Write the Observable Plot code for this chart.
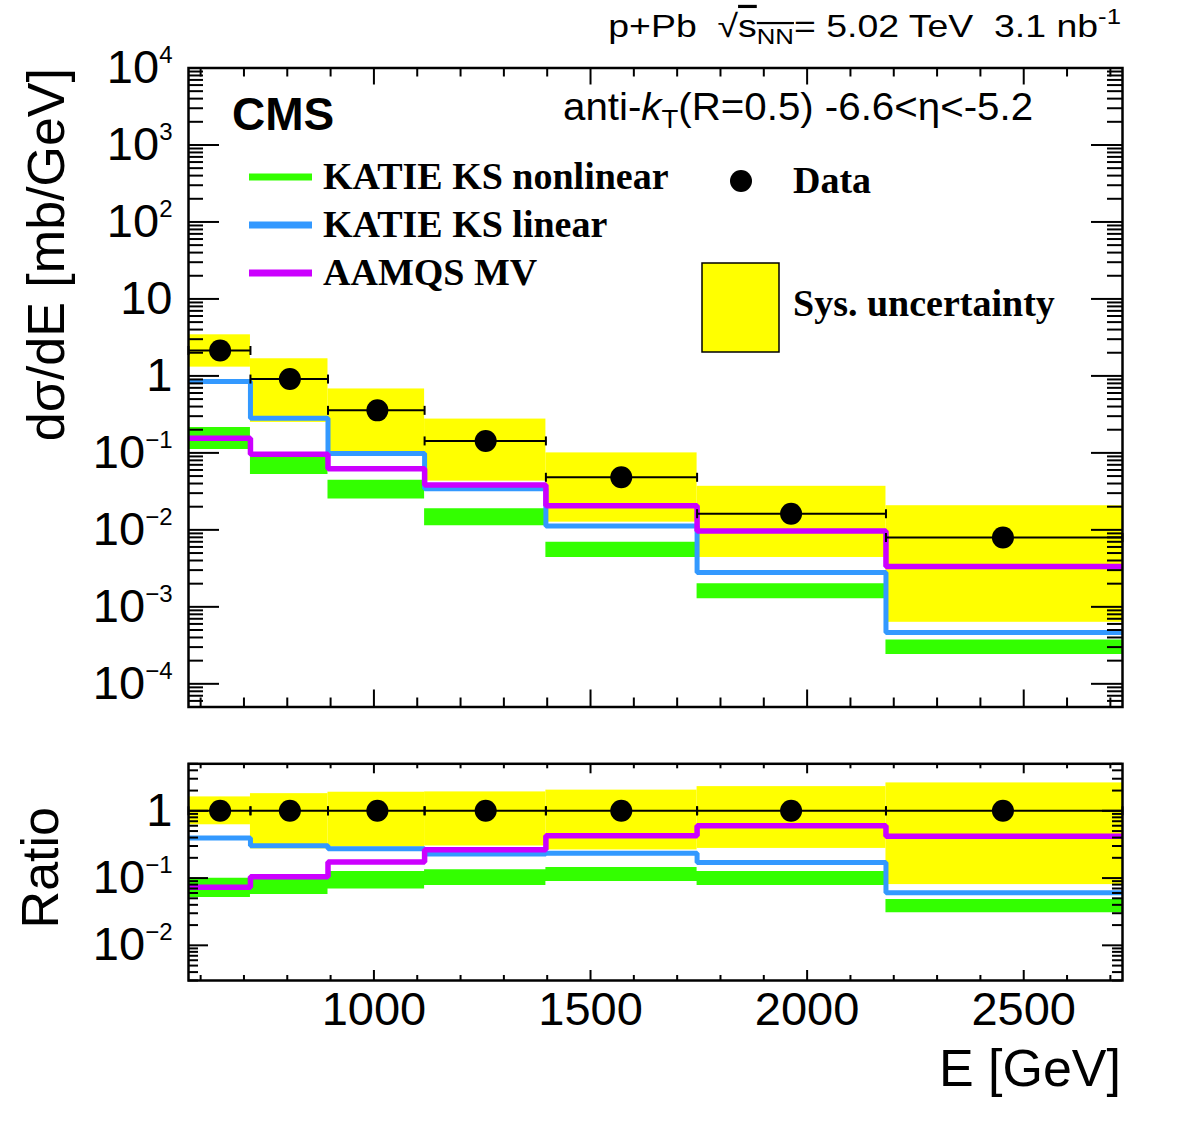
<!DOCTYPE html>
<html>
<head>
<meta charset="utf-8">
<script src="https://cdn.jsdelivr.net/npm/d3@7"></script>
<script src="https://cdn.jsdelivr.net/npm/@observablehq/plot@0.6"></script>
<style>
  html, body { margin: 0; padding: 0; background: white; }
  #page { position: relative; width: 1182px; height: 1128px; overflow: hidden; background: white; }
  #page > svg { position: absolute; left: 0; }
  #overlay { position: absolute; left: 0; top: 0; pointer-events: none; }
</style>
</head>
<body>
<div id="page"></div>
<script>
// ---------------- data ----------------
const binEdges = [572, 715, 894, 1117, 1397, 1746, 2182, 2728];
const dataE = [645, 806, 1008, 1258, 1571, 1963, 2452];
const dataXsec = [2.14, 0.91, 0.357, 0.143, 0.0482, 0.0162, 0.00796];
const sysLow = [1.30, 0.249, 0.104, 0.043, 0.0126, 0.00438, 0.00063];
const sysHigh = [3.42, 1.67, 0.677, 0.275, 0.10, 0.0368, 0.0206];
const katieLinear = [0.843, 0.281, 0.098, 0.0343, 0.0112, 0.0028, 0.000466];
const aamqsMV = [0.155, 0.0963, 0.0621, 0.0383, 0.0205, 0.0097, 0.00334];
const katieNonlinLow = [0.111, 0.0523, 0.0251, 0.0113, 0.00438, 0.00127, 0.00024];
const katieNonlinHigh = [0.214, 0.0887, 0.0441, 0.0188, 0.00692, 0.0020, 0.00037];

const ratioData = [1, 1, 1, 1, 1, 1, 1];
const ratioSysLow = [0.62, 0.271, 0.29, 0.30, 0.262, 0.276, 0.080];
const ratioSysHigh = [1.61, 1.80, 1.89, 1.91, 2.03, 2.29, 2.60];
const ratioLinear = [0.394, 0.303, 0.273, 0.228, 0.233, 0.171, 0.0603];
const ratioAamqs = [0.073, 0.105, 0.174, 0.264, 0.426, 0.60, 0.42];
const ratioNonlinLow = [0.0516, 0.0569, 0.0688, 0.0774, 0.0887, 0.0774, 0.0305];
const ratioNonlinHigh = [0.0994, 0.097, 0.125, 0.133, 0.144, 0.125, 0.048];

const xMajorTicks = [1000, 1500, 2000, 2500];
const xMajorLabels = ["1000", "1500", "2000", "2500"];
const yMajorTop = [1e-4, 1e-3, 1e-2, 1e-1, 1, 10, 100, 1e3, 1e4];
const yMajorRatio = [1e-2, 1e-1, 1];

const legendNames = ["KATIE KS nonlinear", "KATIE KS linear", "AAMQS MV"];

// ---------------- style ----------------
const GREEN = "#33ff00", BLUE = "#3399ff", MAGENTA = "#cc00ff", YELLOW = "#ffff00";
const SANS = "'Liberation Sans', Arial, Helvetica, sans-serif";
const SERIF = "'Liberation Serif', 'Times New Roman', serif";
const W = 1182;
const ML = 188, MR = 60;
const innerW = W - ML - MR;
const xDomain = [binEdges[0], binEdges[binEdges.length - 1]];

// helpers built from arrays
function bins(vals) {
  return d3.range(vals.v.length).map(i => ({
    x1: binEdges[i], x2: binEdges[i + 1], xc: dataE[i],
    v: vals.v[i], sl: vals.sl[i], sh: vals.sh[i]
  }));
}
function stepLine(arr) {
  return binEdges.map((e, i) => ({x: e, y: arr[Math.min(i, arr.length - 1)]}));
}
function stepBand(lo, hi) {
  return binEdges.map((e, i) => ({x: e, lo: lo[Math.min(i, lo.length - 1)], hi: hi[Math.min(i, hi.length - 1)]}));
}
function caps(arr) {
  const out = [];
  arr.forEach((v, i) => { out.push({x: binEdges[i], y: v}); out.push({x: binEdges[i + 1], y: v}); });
  return out;
}
function minorLog(domain) {
  const out = [];
  for (let e = -6; e <= 5; e++) for (let k = 2; k <= 9; k++) {
    const v = k * Math.pow(10, e);
    if (v >= domain[0] && v <= domain[1]) out.push(v);
  }
  return out;
}
function minorX() {
  const out = [];
  for (let v = 600; v <= 2700; v += 100) if (v % 500 !== 0) out.push(v);
  return out;
}
function fmtPow(v) {
  const e = Math.round(Math.log10(v));
  if (e === 0) return "1";
  if (e === 1) return "10";
  return "10^" + (e < 0 ? "\u2212" + (-e) : String(e));
}
const vbar = {draw(ctx, size) { const r = Math.sqrt(size / Math.PI); ctx.moveTo(0, -r); ctx.lineTo(0, r); }};

function tickMarks(innerH, yDomain, yMajor, lenYMaj, lenYMin, lenXMaj, lenXMin) {
  const yMin = minorLog(yDomain);
  const xMin = minorX();
  const st = {stroke: "black", strokeWidth: 2};
  return [
    Plot.ruleY(yMajor, {...st, insetRight: innerW - lenYMaj}),
    Plot.ruleY(yMin, {...st, insetRight: innerW - lenYMin}),
    Plot.ruleY(yMajor, {...st, insetLeft: innerW - lenYMaj}),
    Plot.ruleY(yMin, {...st, insetLeft: innerW - lenYMin}),
    Plot.ruleX(xMajorTicks, {...st, insetTop: innerH - lenXMaj}),
    Plot.ruleX(xMin, {...st, insetTop: innerH - lenXMin}),
    Plot.ruleX(xMajorTicks, {...st, insetBottom: innerH - lenXMaj}),
    Plot.ruleX(xMin, {...st, insetBottom: innerH - lenXMin})
  ];
}

function histMarks(b, lin, mv, nlo, nhi) {
  return [
    Plot.rect(b, {x1: "x1", x2: "x2", y1: "sl", y2: "sh", fill: YELLOW}),
    Plot.areaY(stepBand(nlo, nhi), {x: "x", y1: "lo", y2: "hi", curve: "step-after", fill: GREEN}),
    Plot.line(stepLine(lin), {x: "x", y: "y", curve: "step-after", stroke: BLUE, strokeWidth: 5, strokeLinecap: "butt", strokeLinejoin: "miter"}),
    Plot.line(stepLine(mv), {x: "x", y: "y", curve: "step-after", stroke: MAGENTA, strokeWidth: 5.5, strokeLinecap: "butt", strokeLinejoin: "miter"}),
    Plot.ruleY(b, {y: "v", x1: "x1", x2: "x2", stroke: "black", strokeWidth: 2}),
    Plot.dot(caps(b.map(d => d.v)), {x: "x", y: "y", symbol: vbar, r: 4.5, stroke: "black", strokeWidth: 2, fill: "none"}),
    Plot.dot(b, {x: "xc", y: "v", r: 11, fill: "black", stroke: "none"})
  ];
}

function supify(svg) {
  svg.querySelectorAll('[aria-label="y-axis tick label"] text').forEach(t => {
    const s = t.textContent;
    const i = s.indexOf("^");
    if (i < 0) return;
    t.textContent = s.slice(0, i);
    const ts = document.createElementNS("http://www.w3.org/2000/svg", "tspan");
    ts.setAttribute("font-size", "24px");
    ts.setAttribute("dy", "-20");
    ts.textContent = s.slice(i + 1);
    t.appendChild(ts);
  });
}

// ---------------- top panel ----------------
const topH = 740, topMT = 67.5, topMB = 33.5;
const topDomain = [5e-5, 1e4];
const topBins = bins({v: dataXsec, sl: sysLow, sh: sysHigh});
const topPlot = Plot.plot({
  width: W, height: topH,
  marginLeft: ML, marginRight: MR, marginTop: topMT, marginBottom: topMB,
  x: {domain: xDomain, axis: null},
  y: {type: "log", domain: topDomain},
  style: {fontFamily: SANS, fontSize: "47px", color: "black", background: "transparent", overflow: "visible"},
  marks: [
    ...histMarks(topBins, katieLinear, aamqsMV, katieNonlinLow, katieNonlinHigh),
    Plot.axisY({ticks: yMajorTop, tickSize: 0, tickPadding: 16, tickFormat: fmtPow, label: null, fontSize: 47}),
    ...tickMarks(topH - topMT - topMB, topDomain, yMajorTop, 31, 15, 17, 9),
    Plot.frame({stroke: "black", strokeWidth: 2.5})
  ]
});
topPlot.style.top = "0px";
supify(topPlot);

// ---------------- ratio panel ----------------
const botTop = 740, botH = 388, botMT = 23.3, botMB = 148;
const botDomain = [0.003, 5];
const botBins = bins({v: ratioData, sl: ratioSysLow, sh: ratioSysHigh});
const botPlot = Plot.plot({
  width: W, height: botH,
  marginLeft: ML, marginRight: MR, marginTop: botMT, marginBottom: botMB,
  x: {domain: xDomain},
  y: {type: "log", domain: botDomain},
  style: {fontFamily: SANS, fontSize: "47px", color: "black", background: "transparent", overflow: "visible"},
  marks: [
    ...histMarks(botBins, ratioLinear, ratioAamqs, ratioNonlinLow, ratioNonlinHigh),
    Plot.axisY({ticks: yMajorRatio, tickSize: 0, tickPadding: 16, tickFormat: fmtPow, label: null, fontSize: 47}),
    Plot.axisX({ticks: xMajorTicks, tickSize: 0, tickPadding: 11, tickFormat: (d) => xMajorLabels[xMajorTicks.indexOf(d)], label: null, fontSize: 47}),
    ...tickMarks(botH - botMT - botMB, botDomain, yMajorRatio, 20, 10, 10, 5),
    Plot.frame({stroke: "black", strokeWidth: 2.5})
  ]
});
botPlot.style.top = botTop + "px";
supify(botPlot);

const page = document.getElementById("page");
page.appendChild(topPlot);
page.appendChild(botPlot);

// ---------------- overlay: texts and legend ----------------
const NS = "http://www.w3.org/2000/svg";
const ov = document.createElementNS(NS, "svg");
ov.setAttribute("id", "overlay");
ov.setAttribute("width", W);
ov.setAttribute("height", 1128);
ov.setAttribute("viewBox", `0 0 ${W} 1128`);
page.appendChild(ov);
function el(tag, attrs, parent = ov) {
  const e = document.createElementNS(NS, tag);
  for (const k in attrs) e.setAttribute(k, attrs[k]);
  parent.appendChild(e);
  return e;
}
function txt(attrs, parts) {
  const t = el("text", {"font-family": SANS, fill: "black", style: "white-space:pre", ...attrs});
  for (const p of parts) {
    if (typeof p === "string") t.appendChild(document.createTextNode(p));
    else { const s = el("tspan", p.a || {}, t); s.textContent = p.t; }
  }
  return t;
}

// header (horizontally stretched like the ROOT font)
txt({transform: "translate(1121,37) scale(1.17,1)", x: 0, y: 0, "text-anchor": "end", "font-size": 32}, [
  "p+Pb  \u221A",
  {t: "s", a: {style: "text-decoration:overline"}},
  {t: "NN", a: {"font-size": 22, dy: 7, style: "text-decoration:overline"}},
  {t: "= 5.02 TeV  3.1 nb", a: {dy: -7}},
  {t: "-1", a: {"font-size": 22, dy: -13}}
]);
// CMS
txt({x: 232, y: 130, "font-size": 46, "font-weight": "bold"}, ["CMS"]);
// jet info
txt({transform: "translate(563,120) scale(1.06,1)", x: 0, y: 0, "font-size": 38}, [
  "anti-",
  {t: "k", a: {"font-style": "italic"}},
  {t: "T", a: {"font-size": 26, dy: 8}},
  {t: "(R=0.5) -6.6<\u03B7<-5.2", a: {dy: -8}}
]);

// legend: models
const legendColors = [GREEN, BLUE, MAGENTA];
const legendY = [177, 225, 273];
legendNames.forEach((name, i) => {
  el("line", {x1: 249, x2: 312, y1: legendY[i], y2: legendY[i], stroke: legendColors[i], "stroke-width": 7});
  txt({x: 323, y: legendY[i] + 12, "font-size": 38, "font-weight": "bold", "font-family": SERIF}, [name]);
});
// legend: data
el("circle", {cx: 741, cy: 181, r: 11, fill: "black"});
txt({x: 793, y: 193, "font-size": 38, "font-weight": "bold", "font-family": SERIF}, ["Data"]);
// legend: sys
el("rect", {x: 702, y: 263, width: 77, height: 89, fill: YELLOW, stroke: "black", "stroke-width": 1.5});
txt({x: 793, y: 316, "font-size": 38, "font-weight": "bold", "font-family": SERIF}, ["Sys. uncertainty"]);

// axis titles
txt({transform: "translate(64,68) rotate(-90)", "text-anchor": "end", "font-size": 52}, ["d\u03C3/dE [mb/GeV]"]);
txt({transform: "translate(58,807) rotate(-90)", "text-anchor": "end", "font-size": 52}, ["Ratio"]);
txt({x: 1121, y: 1086, "text-anchor": "end", "font-size": 52}, ["E [GeV]"]);
</script>
</body>
</html>
